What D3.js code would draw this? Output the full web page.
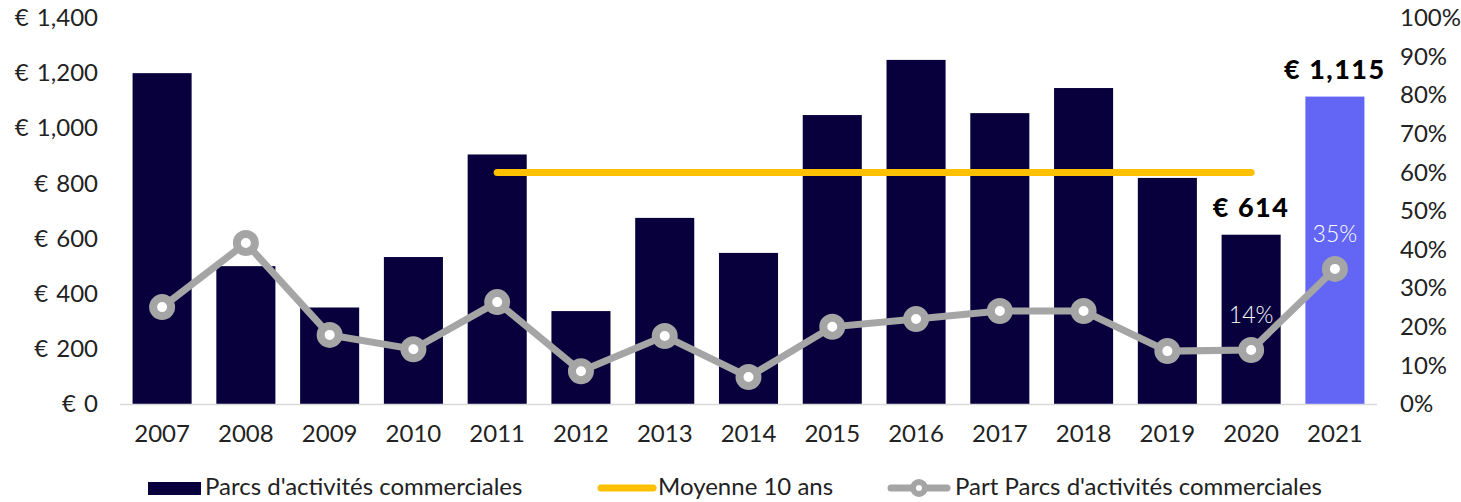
<!DOCTYPE html>
<html>
<head>
<meta charset="utf-8">
<script src="https://cdn.jsdelivr.net/npm/d3@7"></script>
<style>
  body { margin: 0; background: #fff; }
  svg text { font-family: Lato, "Noto Sans", sans-serif; }
</style>
</head>
<body>
<div id="vis"></div>
<script>
const years = ["2007","2008","2009","2010","2011","2012","2013","2014","2015","2016","2017","2018","2019","2020","2021"];
const volumes = [1200, 500, 350, 533, 905, 337, 675, 548, 1048, 1248, 1055, 1146, 820, 614, 1115];
const shares = [0.251, 0.417, 0.179, 0.142, 0.264, 0.085, 0.176, 0.07, 0.2, 0.22, 0.241, 0.241, 0.137, 0.14, 0.35];
const avgYears = ["2011","2020"];
const avgValue = [840, 840];
const leftTicks = [0, 200, 400, 600, 800, 1000, 1200, 1400];
const rightTicks = [0, 0.1, 0.2, 0.3, 0.4, 0.5, 0.6, 0.7, 0.8, 0.9, 1];
const valueLabels = [{ year: "2020", value: 614, text: "€ 614" }, { year: "2021", value: 1115, text: "€ 1,115" }];
const shareLabels = [{ year: "2020", text: "14%" }, { year: "2021", text: "35%" }];
const legendItems = ["Parcs d'activités commerciales", "Moyenne 10 ans", "Part Parcs d'activités commerciales"];

const width = 1461, height = 502;
const navy = "#07003d", blue = "#6366f5", grey = "#a5a5a5", gold = "#ffc000";

const svg = d3.select("#vis").append("svg")
    .attr("width", width)
    .attr("height", height);

const x = d3.scaleBand().domain(years).range([120, 1377]).paddingInner(0.295).paddingOuter(0.15);
const y = d3.scaleLinear().domain([0, 1400]).range([404, 18]);
const y2 = d3.scaleLinear().domain([0, 1]).range([404, 18]);
const cx = d => x(d) + x.bandwidth() / 2;

// left axis
const yAxis = svg.append("g")
    .attr("transform", "translate(98,0)")
    .call(d3.axisLeft(y).tickValues(leftTicks).tickSize(0).tickPadding(0)
        .tickFormat(d => "€ " + d3.format(",")(d)));
yAxis.select(".domain").remove();
yAxis.selectAll("text").attr("font-size", 24).attr("fill", "#222").attr("font-family", "Lato, sans-serif")
    .attr("word-spacing", 2);

// right axis
const yAxis2 = svg.append("g")
    .attr("transform", "translate(1400,0)")
    .call(d3.axisRight(y2).tickValues(rightTicks).tickSize(0).tickPadding(0)
        .tickFormat(d3.format(".0%")));
yAxis2.select(".domain").remove();
yAxis2.selectAll("text").attr("font-size", 24).attr("fill", "#222").attr("font-family", "Lato, sans-serif");

// bars
svg.selectAll("rect.bar")
    .data(years)
    .enter().append("rect")
    .attr("class", "bar")
    .attr("x", d => x(d))
    .attr("y", (d, i) => y(volumes[i]))
    .attr("width", x.bandwidth())
    .attr("height", (d, i) => y(0) - y(volumes[i]))
    .attr("fill", d => d === "2021" ? blue : navy);

// baseline
svg.append("line")
    .attr("x1", 120).attr("x2", 1377)
    .attr("y1", y(0) + 0.5).attr("y2", y(0) + 0.5)
    .attr("stroke", "#d9d9d9").attr("stroke-width", 1.5);

// x labels
const xAxis = svg.append("g")
    .attr("transform", `translate(0,${y(0)})`)
    .call(d3.axisBottom(x).tickSize(0).tickPadding(21));
xAxis.select(".domain").remove();
xAxis.selectAll("text").attr("font-size", 24).attr("fill", "#222").attr("font-family", "Lato, sans-serif");

// average line
svg.append("path")
    .datum(avgYears)
    .attr("d", d3.line().x(d => cx(d)).y((d, i) => y(avgValue[i])))
    .attr("stroke", gold).attr("stroke-width", 7).attr("stroke-linecap", "round").attr("fill", "none");

// share line
svg.append("path")
    .datum(years)
    .attr("d", d3.line().x(d => cx(d)).y((d, i) => y2(shares[i])))
    .attr("stroke", grey).attr("stroke-width", 7).attr("fill", "none");

svg.selectAll("circle.pt")
    .data(years)
    .enter().append("circle")
    .attr("class", "pt")
    .attr("cx", d => cx(d))
    .attr("cy", (d, i) => y2(shares[i]))
    .attr("r", 9)
    .attr("fill", "#fff").attr("stroke", grey).attr("stroke-width", 8);

// value labels
svg.selectAll("text.val")
    .data(valueLabels)
    .enter().append("text")
    .attr("class", "val")
    .attr("x", d => cx(d.year))
    .attr("y", d => y(d.value) - 18)
    .attr("text-anchor", "middle")
    .attr("font-size", 27).attr("font-weight", 900).attr("fill", "#000")
    .attr("letter-spacing", 1.5)
    .text(d => d.text);

svg.selectAll("text.share")
    .data(shareLabels)
    .enter().append("text")
    .attr("class", "share")
    .attr("x", d => cx(d.year))
    .attr("y", d => y2(shares[years.indexOf(d.year)]) - 27)
    .attr("text-anchor", "middle")
    .attr("font-size", 23).attr("font-weight", 300).attr("fill", "#fff")
    .text(d => d.text);

// legend
const legend = svg.append("g").attr("transform", "translate(0,488)");
legend.append("rect").attr("x", 148).attr("y", -6).attr("width", 53).attr("height", 13).attr("fill", navy);
legend.append("text").attr("x", 205).attr("y", 7).text(legendItems[0]);
legend.append("line").attr("x1", 601).attr("x2", 653).attr("y1", 0).attr("y2", 0)
    .attr("stroke", gold).attr("stroke-width", 7).attr("stroke-linecap", "round");
legend.append("text").attr("x", 658).attr("y", 7).text(legendItems[1]);
legend.append("line").attr("x1", 891).attr("x2", 947).attr("y1", 0).attr("y2", 0)
    .attr("stroke", grey).attr("stroke-width", 7).attr("stroke-linecap", "round");
legend.append("circle").attr("cx", 919).attr("cy", 0).attr("r", 6)
    .attr("fill", "#fff").attr("stroke", grey).attr("stroke-width", 6);
legend.append("text").attr("x", 955).attr("y", 7).text(legendItems[2]);
legend.selectAll("text").attr("font-size", 24).attr("fill", "#222");
</script>
</body>
</html>
